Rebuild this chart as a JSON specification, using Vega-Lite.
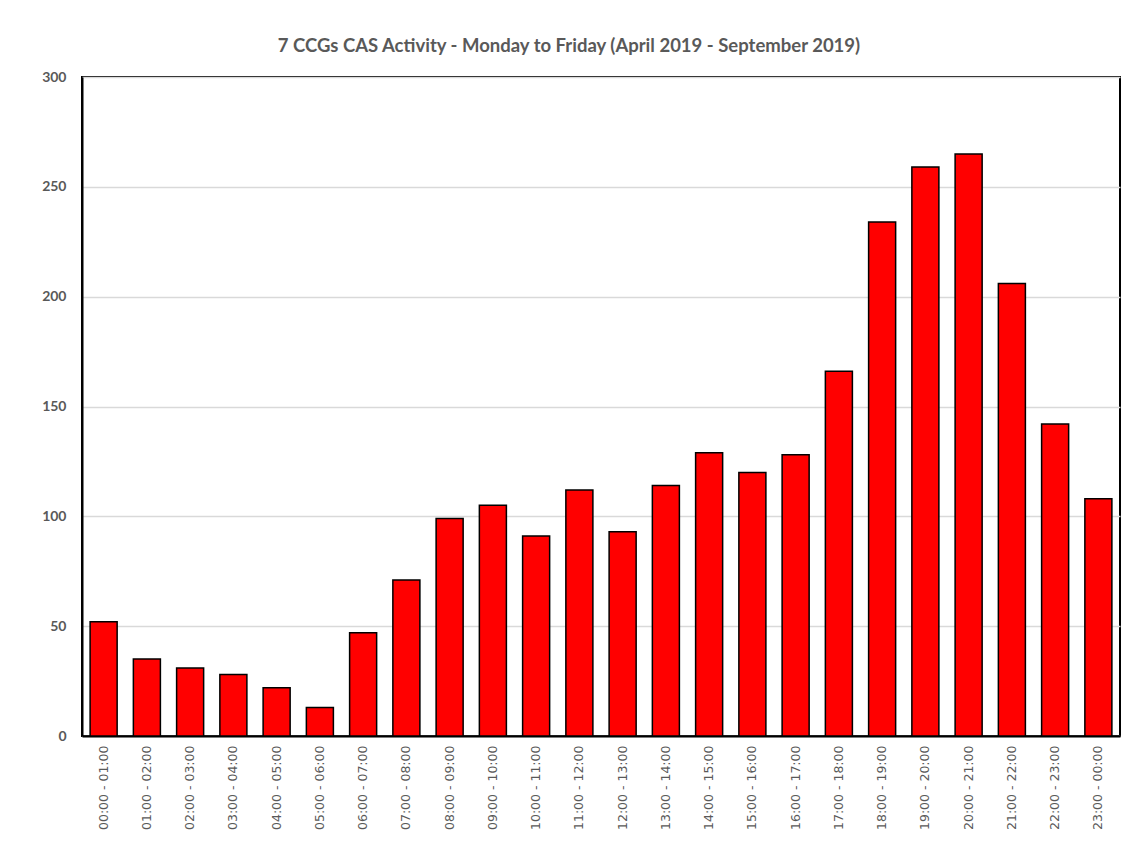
{
  "$schema": "https://vega.github.io/schema/vega-lite/v6.json",
  "autosize": "none",
  "width": 1038,
  "height": 659,
  "padding": {"left": 82, "top": 77, "right": 9, "bottom": 111},
  "background": "white",
  "title": {
    "text": "7 CCGs CAS Activity -  Monday to Friday (April 2019 - September 2019)",
    "font": "Lato",
    "fontSize": 18.5,
    "fontWeight": "bold",
    "color": "#595959",
    "anchor": "middle",
    "dx": -32,
    "offset": 15
  },
  "data": {
    "values": [
      {"slot": "00:00 - 01:00", "count": 52},
      {"slot": "01:00 - 02:00", "count": 35},
      {"slot": "02:00 - 03:00", "count": 31},
      {"slot": "03:00 - 04:00", "count": 28},
      {"slot": "04:00 - 05:00", "count": 22},
      {"slot": "05:00 - 06:00", "count": 13},
      {"slot": "06:00 - 07:00", "count": 47},
      {"slot": "07:00 - 08:00", "count": 71},
      {"slot": "08:00 - 09:00", "count": 99},
      {"slot": "09:00 - 10:00", "count": 105},
      {"slot": "10:00 - 11:00", "count": 91},
      {"slot": "11:00 - 12:00", "count": 112},
      {"slot": "12:00 - 13:00", "count": 93},
      {"slot": "13:00 - 14:00", "count": 114},
      {"slot": "14:00 - 15:00", "count": 129},
      {"slot": "15:00 - 16:00", "count": 120},
      {"slot": "16:00 - 17:00", "count": 128},
      {"slot": "17:00 - 18:00", "count": 166},
      {"slot": "18:00 - 19:00", "count": 234},
      {"slot": "19:00 - 20:00", "count": 259},
      {"slot": "20:00 - 21:00", "count": 265},
      {"slot": "21:00 - 22:00", "count": 206},
      {"slot": "22:00 - 23:00", "count": 142},
      {"slot": "23:00 - 00:00", "count": 108}
    ]
  },
  "mark": {"type": "bar", "color": "#ff0000", "stroke": "#000000", "strokeWidth": 1.5},
  "encoding": {
    "x": {
      "field": "slot",
      "type": "nominal",
      "sort": null,
      "scale": {"paddingInner": 0.375, "paddingOuter": 0.1875},
      "axis": {
        "title": null,
        "labelAngle": -90,
        "labelFont": "DejaVu Sans",
        "labelFontSize": 12.5,
        "labelColor": "#595959",
        "labelPadding": 9,
        "ticks": false,
        "domainColor": "#000000",
        "domainWidth": 2,
        "grid": false
      }
    },
    "y": {
      "field": "count",
      "type": "quantitative",
      "scale": {"domain": [0, 300], "nice": false},
      "axis": {
        "title": null,
        "values": [0, 50, 100, 150, 200, 250, 300],
        "labelFont": "Lato",
        "labelFontSize": 14,
        "labelFontWeight": "bold",
        "labelColor": "#595959",
        "labelPadding": 16,
        "ticks": false,
        "domainColor": "#000000",
        "domainWidth": 2,
        "grid": true,
        "gridColor": "#d9d9d9",
        "gridWidth": 1.5
      }
    }
  },
  "config": {
    "view": {"stroke": "#000000", "strokeWidth": 2}
  }
}
